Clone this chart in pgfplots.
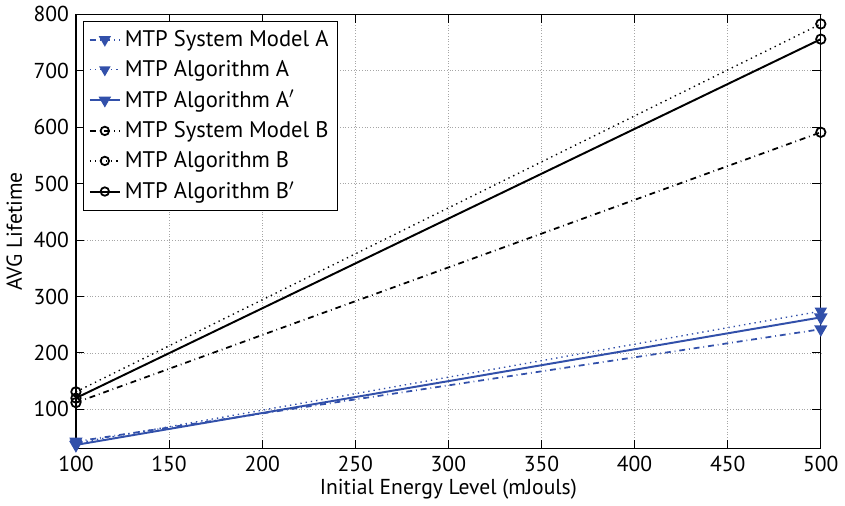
\documentclass[border=0pt]{standalone}
\usepackage{pgfplots}
\pgfplotsset{compat=1.18}
\usepackage{fontspec}
\setmainfont{PT Sans}
\definecolor{mblue}{RGB}{50,80,170}
\begin{document}
\begin{tikzpicture}
\begin{axis}[
  scale only axis,
  width=378bp, height=220.5bp,
  xmin=100, xmax=500, ymin=30, ymax=800,
  xtick={100,150,...,500},
  ytick={100,200,...,800},
  grid=major,
  major grid style={densely dotted, gray!70, line width=0.4pt},
  tick align=inside,
  tick style={black, line width=0.5pt},
  axis line style={line width=0.6pt},
  /pgf/number format/assume math mode=true,
  ticklabel style={font=\fontsize{11}{13}\selectfont},
  xlabel={Initial Energy Level (mJouls)},
  ylabel={AVG Lifetime},
  label style={font=\fontsize{11}{13}\selectfont},
  xlabel style={yshift=3pt},
  ylabel style={yshift=-1pt},
  legend style={font=\fontsize{11.5}{13.5}\selectfont, draw=black, line width=0.5pt, inner sep=2.5pt, row sep=1.6pt, at={(0.01,0.985)}, anchor=north west},
  legend image post style={scale=0.9},
  legend cell align=left,
]
\addplot[mblue, dashdotted, line width=0.9pt, mark=triangle*, mark options={solid, rotate=180, scale=1.5}] coordinates {(100,43) (500,242)};
\addlegendentry{MTP System Model A}
\addplot[mblue, dotted, line width=0.7pt, mark=triangle*, mark options={solid, rotate=180, scale=1.5}] coordinates {(100,40) (500,274)};
\addlegendentry{MTP Algorithm A}
\addplot[mblue, solid, line width=1.0pt, mark=triangle*, mark options={solid, rotate=180, scale=1.5}] coordinates {(100,37) (500,263)};
\addlegendentry{MTP Algorithm A$'$}
\addplot[black, dashdotted, line width=0.9pt, mark=o, mark options={solid, scale=1.2, line width=0.9pt}] coordinates {(100,112) (500,591)};
\addlegendentry{MTP System Model B}
\addplot[black, dotted, line width=0.7pt, mark=o, mark options={solid, scale=1.2, line width=0.9pt}] coordinates {(100,131) (500,783)};
\addlegendentry{MTP Algorithm B}
\addplot[black, solid, line width=1.0pt, mark=o, mark options={solid, scale=1.2, line width=0.9pt}] coordinates {(100,120) (500,756)};
\addlegendentry{MTP Algorithm B$'$}
\end{axis}
\end{tikzpicture}
\end{document}
